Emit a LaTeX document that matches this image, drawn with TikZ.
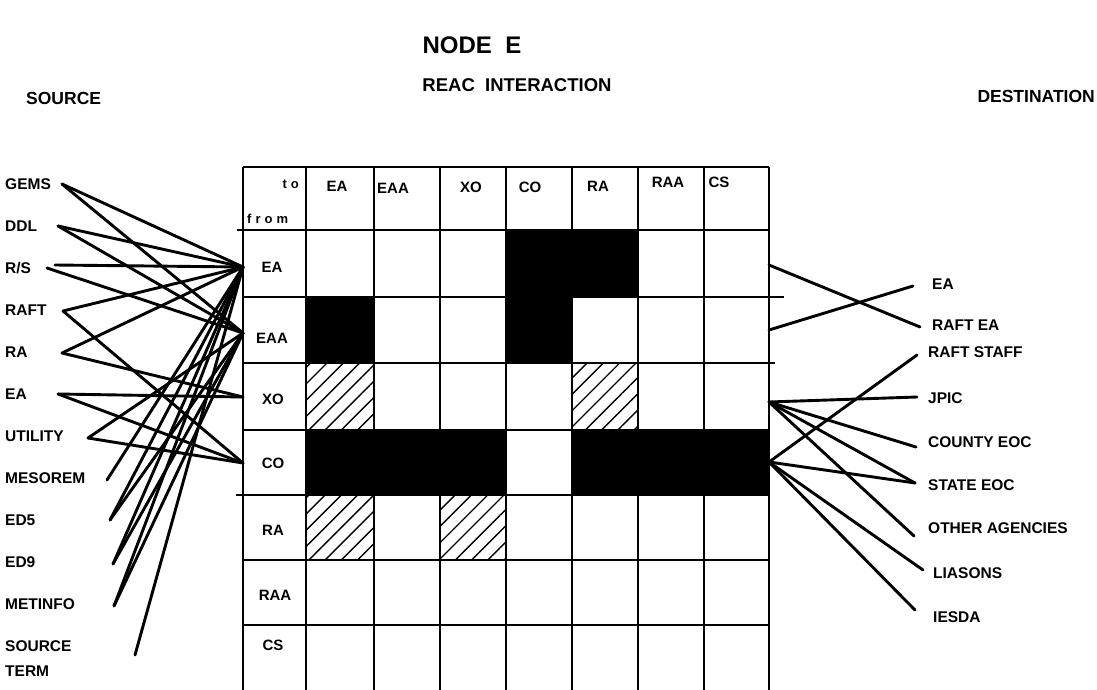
\documentclass[tikz,border=0pt]{standalone}
\usepackage{fontspec}
\setmainfont{Liberation Sans}
\usetikzlibrary{patterns.meta}
\begin{document}
\begin{tikzpicture}[x=1pt,y=-1pt,
  conn/.style={line width=2.9pt, line cap=round},
  gridln/.style={line width=2.4pt},
  slab/.style={font=\bfseries\fontsize{15.5}{17}\selectfont, inner sep=0pt, anchor=west},
  glab/.style={font=\bfseries\fontsize{15}{17}\selectfont, inner sep=0pt},
  hlab/.style={font=\bfseries\fontsize{13}{15}\selectfont, inner sep=0pt},
  ttl/.style={font=\bfseries\fontsize{17.5}{19}\selectfont, inner sep=0pt},
  hatchcell/.style={pattern={Lines[angle=45,distance=11.5pt,line width=1.4pt]}},
  blackcell/.style={fill=black}]
\useasboundingbox (0,0) rectangle (1097,690);

% titles
\node[ttl, font=\bfseries\fontsize{24}{26}\selectfont] (nodeE) at (472,45) {NODE\ \ E};
\node[ttl, font=\bfseries\fontsize{18.5}{20}\selectfont] (reac) at (517,85) {REAC\ \ INTERACTION};
\node[ttl, anchor=west] (source) at (26,98) {SOURCE};
\node[ttl, anchor=east] (dest) at (1095,96) {DESTINATION};

% cell fills
\fill[blackcell] (506,230) rectangle (638,297);
\fill[blackcell] (306,297) rectangle (374,363);
\fill[blackcell] (506,297) rectangle (572,363);
\fill[blackcell] (306,430) rectangle (506,495);
\fill[blackcell] (572,430) rectangle (769,495);
\fill[hatchcell] (306,363) rectangle (374,430);
\fill[hatchcell] (572,363) rectangle (638,430);
\fill[hatchcell] (306,495) rectangle (374,560);
\fill[hatchcell] (440,495) rectangle (506,560);

% grid
\foreach \x in {243,306,374,440,506,572,638,704,769}
  \draw[gridln] (\x,167) -- (\x,690);
\foreach \y in {167,230,297,363,430,495,560,625}
  \draw[gridln] (243,\y) -- (769,\y);
\draw[gridln] (237,230) -- (243,230);
\draw[gridln] (236,495) -- (243,495);
\draw[gridln] (769,297) -- (784,297);
\draw[gridln] (769,363) -- (775,363);

% header
\node[hlab, anchor=east] (hto) at (299,184) {t\hspace{4pt}o};
\node[hlab, anchor=west] (hfrom) at (247,219) {f\hspace{4pt}r\hspace{4pt}o\hspace{4pt}m};
\node[glab] (cEAh) at (337,186) {EA};
\node[glab, anchor=west] (cEAAh) at (377,188) {EAA};
\node[glab] (cXOh) at (471,187) {XO};
\node[glab] (cCOh) at (530,187) {CO};
\node[glab] (cRAh) at (598,186) {RA};
\node[glab] (cRAAh) at (668,182) {RAA};
\node[glab] (cCSh) at (719,182) {CS};

% row labels
\node[glab] (rEA) at (272,267) {EA};
\node[glab] (rEAA) at (272,338) {EAA};
\node[glab] (rXO) at (273,399) {XO};
\node[glab] (rCO) at (273,463) {CO};
\node[glab] (rRA) at (273,530) {RA};
\node[glab] (rRAA) at (275,595) {RAA};
\node[glab] (rCS) at (273,645) {CS};

% source labels
\node[slab] (sGEMS) at (5,184) {GEMS};
\node[slab] (sDDL) at (5,226) {DDL};
\node[slab] (sRS) at (5,268) {R/S};
\node[slab] (sRAFT) at (5,310) {RAFT};
\node[slab] (sRA) at (5,352) {RA};
\node[slab] (sEA) at (5,394) {EA};
\node[slab] (sUTIL) at (5,436) {UTILITY};
\node[slab] (sMESO) at (5,478) {MESOREM};
\node[slab] (sED5) at (5,520) {ED5};
\node[slab] (sED9) at (5,562) {ED9};
\node[slab] (sMET) at (5,604) {METINFO};
\node[slab, align=left, font=\bfseries\fontsize{15.5}{25}\selectfont] (sST) at (5,659) {SOURCE\\TERM};

% destination labels
\node[slab] (dEA) at (932,284) {EA};
\node[slab] (dRAFTEA) at (932,325) {RAFT EA};
\node[slab] (dSTAFF) at (928,352) {RAFT STAFF};
\node[slab] (dJPIC) at (928,398) {JPIC};
\node[slab] (dCOUNTY) at (928,442) {COUNTY EOC};
\node[slab] (dSTATE) at (928,485) {STATE EOC};
\node[slab] (dOTHER) at (928,528) {OTHER AGENCIES};
\node[slab] (dLIAS) at (933,573) {LIASONS};
\node[slab] (dIESDA) at (933,617) {IESDA};

% connector end points
\coordinate (cGEMS) at (62,184);
\coordinate (cDDL) at (58,226);
\coordinate (cRS1) at (55,265);
\coordinate (cRS2) at (47,268);
\coordinate (cRAFT) at (63,311);
\coordinate (cRA) at (62,353);
\coordinate (cEA) at (58,394);
\coordinate (cUTIL) at (88,438);
\coordinate (cMESO) at (107,480);
\coordinate (cED5) at (110,520);
\coordinate (cED9) at (113,564);
\coordinate (cMET) at (114,606);
\coordinate (cST) at (135,655);

\coordinate (pEA) at (243,267);
\coordinate (pEAA) at (243,333);
\coordinate (pXO) at (243,397);
\coordinate (pCO) at (243,463);

\coordinate (qEA) at (769,265);
\coordinate (qEAA) at (769,330);
\coordinate (qXO) at (769,402);
\coordinate (qCO) at (769,462);

\coordinate (eEA) at (913,286);
\coordinate (eRAFTEA) at (920,327);
\coordinate (eSTAFF) at (917,355);
\coordinate (eJPIC) at (917,397);
\coordinate (eCOUNTY) at (916,447);
\coordinate (eSTATE) at (915,483);
\coordinate (eOTHER) at (914,536);
\coordinate (eLIAS) at (923,570);
\coordinate (eIESDA) at (915,610);

% source connectors
\draw[conn] (cGEMS) -- (pEA);
\draw[conn] (cGEMS) -- (pEAA);
\draw[conn] (cDDL) -- (pEA);
\draw[conn] (cDDL) -- (pEAA);
\draw[conn] (cRS1) -- (pEA);
\draw[conn] (cRS2) -- (pEAA);
\draw[conn] (cRAFT) -- (pEA);
\draw[conn] (cRAFT) -- (pCO);
\draw[conn] (cRA) -- (pEA);
\draw[conn] (cRA) -- (pXO);
\draw[conn] (cEA) -- (pXO);
\draw[conn] (cEA) -- (pCO);
\draw[conn] (cUTIL) -- (pEAA);
\draw[conn] (cUTIL) -- (pCO);
\draw[conn] (cMESO) -- (pEA);
\draw[conn] (cED5) -- (pEA);
\draw[conn] (cED5) -- (pEAA);
\draw[conn] (cED9) -- (pEA);
\draw[conn] (cED9) -- (pEAA);
\draw[conn] (cMET) -- (pEA);
\draw[conn] (cMET) -- (pEAA);
\draw[conn] (cST) -- (pEA);

% destination connectors
\draw[conn] (qEA) -- (eRAFTEA);
\draw[conn] (qEAA) -- (eEA);
\draw[conn] (qXO) -- (eJPIC);
\draw[conn] (qXO) -- (eCOUNTY);
\draw[conn] (qXO) -- (eSTATE);
\draw[conn] (qXO) -- (eOTHER);
\draw[conn] (qCO) -- (eSTAFF);
\draw[conn] (qCO) -- (eSTATE);
\draw[conn] (qCO) -- (eLIAS);
\draw[conn] (qCO) -- (eIESDA);
\end{tikzpicture}
\end{document}
